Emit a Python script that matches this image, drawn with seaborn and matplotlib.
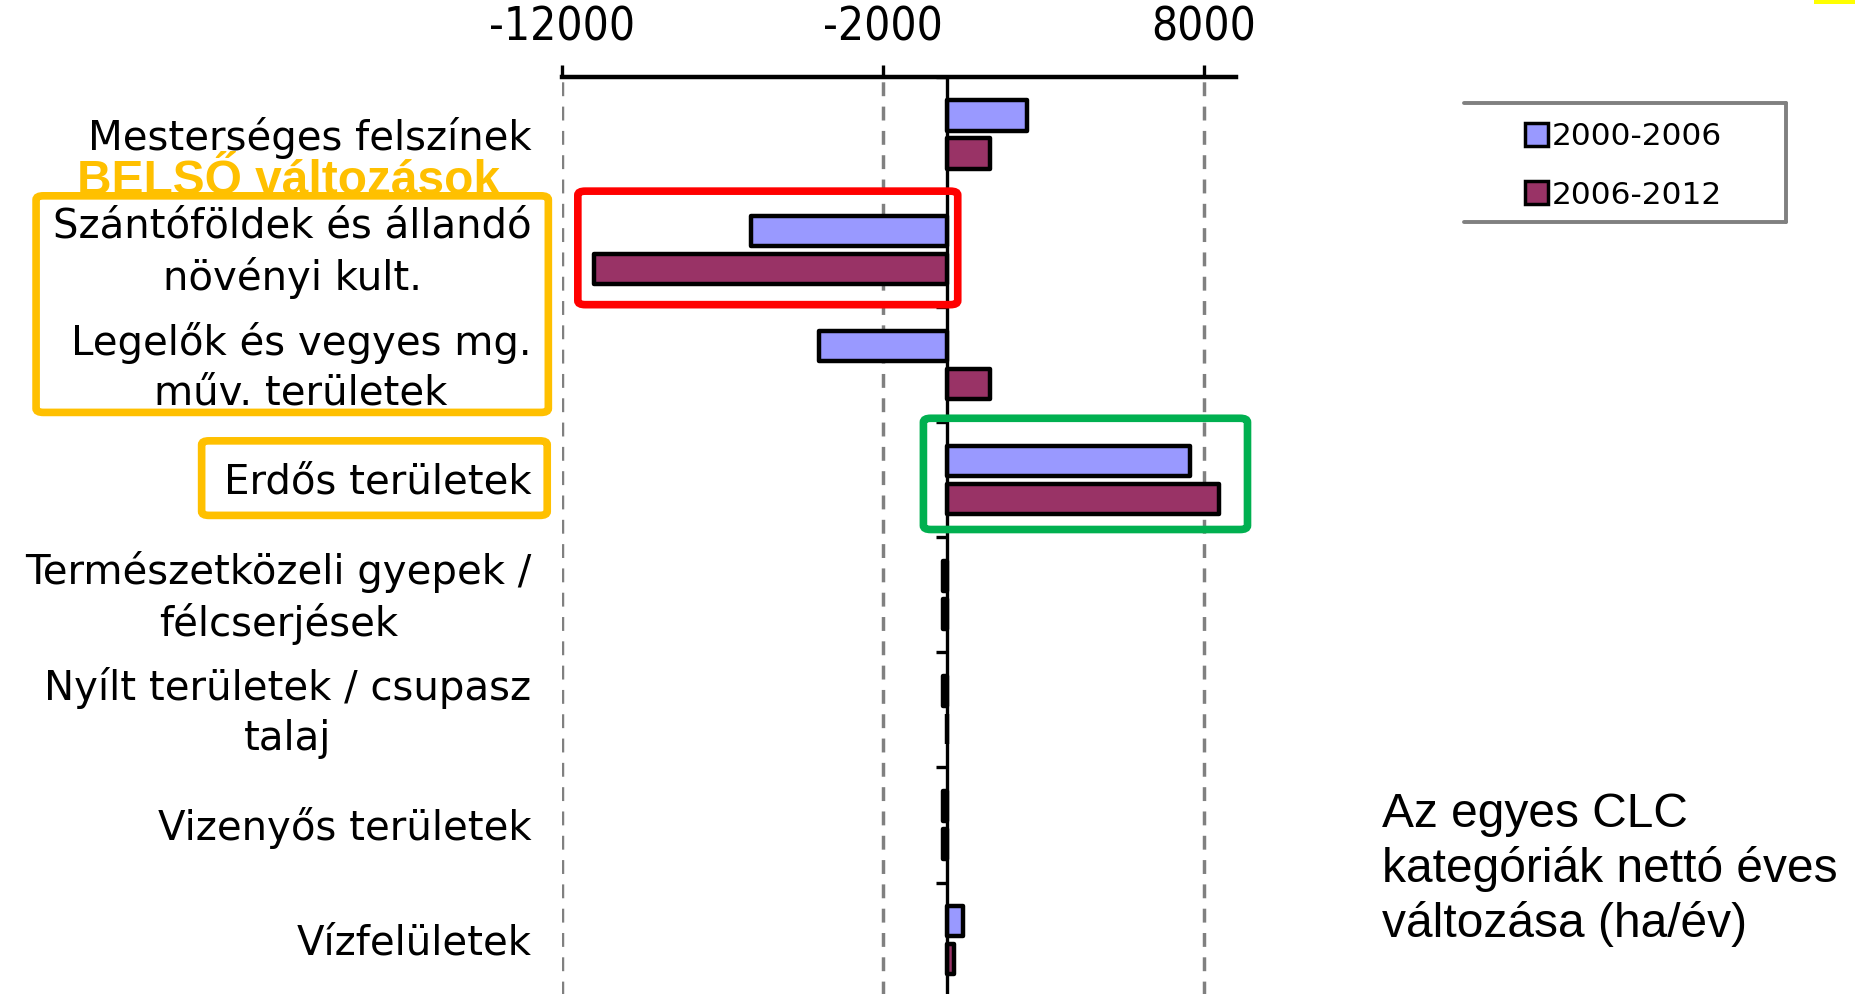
import pandas as pd
import numpy as np
import matplotlib.pyplot as plt
import seaborn as sns
import matplotlib.transforms as mtransforms
from matplotlib.patches import FancyBboxPatch, Rectangle
from matplotlib.lines import Line2D

categories = ['Mesterséges felszínek',
              'Szántóföldek és állandó\nnövényi kult.',
              'Legelők és vegyes mg.\nműv. területek',
              'Erdős területek',
              'Természetközeli gyepek /\nfélcserjések',
              'Nyílt területek / csupasz\ntalaj',
              'Vizenyős területek',
              'Vízfelületek']
periods = ['2000-2006', '2006-2012']
values_2000_2006 = [2500, -6100, -4000, 7550, -120, -120, -120, 500]
values_2006_2012 = [1330, -11000, 1330, 8450, -120, 0, -120, 220]
x_ticks = [-12000, -2000, 8000]

df = pd.DataFrame({
    'category': categories * 2,
    'period': [periods[0]] * len(categories) + [periods[1]] * len(categories),
    'value': values_2000_2006 + values_2006_2012,
})

sns.set_style('white')
plt.rcParams['font.family'] = ['DejaVu Sans']
plt.rcParams['text.color'] = 'black'
plt.rcParams['xtick.color'] = 'black'
plt.rcParams['ytick.color'] = 'black'

fig = plt.figure(figsize=(18.55, 9.94), dpi=100)
ax = fig.add_axes([0.3029, -0.0036, 0.3635, 0.926])

sns.barplot(data=df, y='category', x='value', hue='period', order=categories,
            hue_order=periods, orient='h', palette=['#9999FF', '#993366'],
            saturation=1, width=0.66, gap=0.2, edgecolor='black', linewidth=3.2,
            errorbar=None, legend=False, ax=ax, zorder=3)
for bar in ax.patches:
    bar.set_joinstyle('round')

ax.set_xlim(-12000, 9000)
ax.set_ylim(len(categories) - 0.5, -0.5)
ax.set_xlabel('')
ax.set_ylabel('')

# x axis on top
ax.xaxis.tick_top()
ax.set_xticks(x_ticks)
ax.set_xticklabels([str(t) for t in x_ticks])
ax.tick_params(axis='x', direction='out', length=9, width=2.4, pad=10,
               labelsize=33, labelcolor='black')
for lab in ax.get_xticklabels():
    lab.set_fontstretch('condensed')
for t in x_ticks:
    ax.axvline(t, color='#808080', linestyle=(0, (4, 3)), linewidth=2.5, zorder=1)

for s in ['right', 'bottom']:
    ax.spines[s].set_visible(False)
ax.spines['top'].set_linewidth(3.2)
ax.spines['top'].set_color('black')

# vertical axis line at zero with boundary ticks
ax.spines['left'].set_position(('data', 0))
ax.spines['left'].set_linewidth(2.4)
ax.spines['left'].set_color('black')
ax.spines['left'].set_zorder(4)
ax.set_yticks(np.arange(len(categories) + 1) - 0.5)
ax.set_yticklabels([])
ax.tick_params(axis='y', direction='out', length=8, width=2.4, left=True)

# category labels at the left edge
sec = ax.secondary_yaxis('left')
sec.set_yticks(np.arange(len(categories)))
sec.set_yticklabels(categories)
sec.tick_params(axis='y', length=0, pad=22, labelsize=29, labelcolor='black')
sec.spines['left'].set_visible(False)
shift = mtransforms.ScaledTranslation(0, -3 / 100, fig.dpi_scale_trans)
for lab in sec.get_yticklabels():
    lab.set_multialignment('center')
    lab.set_verticalalignment('center')
    lab.set_linespacing(1.32)
    lab.set_transform(lab.get_transform() + shift)

# legend
handles = [Rectangle((0, 0), 1, 1, facecolor=c, edgecolor='black', linewidth=2.5)
           for c in ['#9999FF', '#993366']]
fig.legend(handles, periods, loc='center', bbox_to_anchor=(0.875, 0.833),
           frameon=False, fontsize=22.5, handlelength=0.75, handleheight=0.75,
           handletextpad=0.1, labelspacing=0.95)
for xs, ys in [([0.789, 0.963], [0.896, 0.896]),
               ([0.963, 0.963], [0.896, 0.777]),
               ([0.789, 0.963], [0.777, 0.777])]:
    fig.add_artist(Line2D(xs, ys, color='#808080', linewidth=2.8,
                          transform=fig.transFigure))

# annotations
fig.text(0.0415, 0.805, 'BELSŐ változások', color='#FFC000', fontsize=34.5,
         fontweight='bold', family='Liberation Sans', ha='left', va='baseline')

boxes = [((0.01945, 0.5851), 0.27615, 0.2179, '#FFC000'),
         ((0.1087, 0.4815), 0.1863, 0.0750, '#FFC000'),
         ((0.3115, 0.6935), 0.2048, 0.1142, '#FF0000'),
         ((0.4978, 0.4673), 0.1747, 0.1119, '#00B050')]
for (x0, y0), w, h, c in boxes:
    fig.add_artist(FancyBboxPatch((x0, y0), w, h,
                                  boxstyle='round,pad=0,rounding_size=0.004',
                                  facecolor='none', edgecolor=c, linewidth=5.5,
                                  transform=fig.transFigure, zorder=5))

fig.text(0.745, 0.125, 'Az egyes CLC\nkategóriák nettó éves\nváltozása (ha/év)',
         fontsize=34.5, family='Liberation Sans', ha='left', va='center',
         linespacing=1.25, color='black')

fig.add_artist(Rectangle((0.978, 0.996), 0.022, 0.004, facecolor='#FFFF00',
                         edgecolor='none', transform=fig.transFigure))

plt.savefig('out.png', dpi=100)
